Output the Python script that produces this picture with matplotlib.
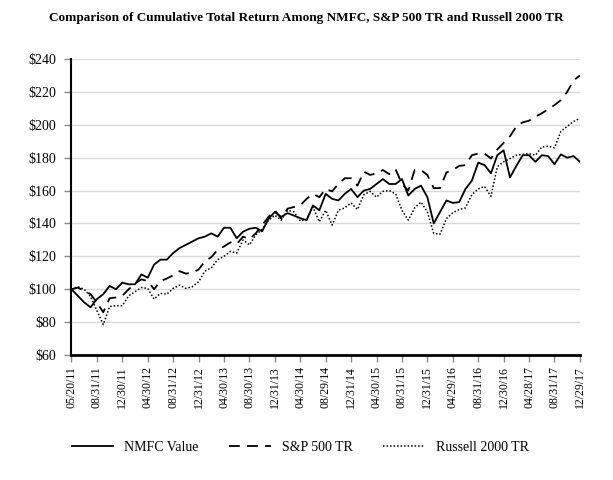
import matplotlib
matplotlib.use("Agg")
import matplotlib.pyplot as plt

plt.rcParams['font.family'] = ['Liberation Serif', 'DejaVu Serif']

dates = ["05/20/11", "05/31/11", "06/30/11", "07/29/11", "08/31/11", "09/30/11", "10/31/11", "11/30/11",
         "12/30/11", "01/31/12", "02/29/12", "03/30/12", "04/30/12", "05/31/12", "06/29/12", "07/31/12",
         "08/31/12", "09/28/12", "10/31/12", "11/30/12", "12/31/12", "01/31/13", "02/28/13", "03/28/13",
         "04/30/13", "05/31/13", "06/28/13", "07/31/13", "08/30/13", "09/30/13", "10/31/13", "11/29/13",
         "12/31/13", "01/31/14", "02/28/14", "03/31/14", "04/30/14", "05/30/14", "06/30/14", "07/31/14",
         "08/29/14", "09/30/14", "10/31/14", "11/28/14", "12/31/14", "01/30/15", "02/27/15", "03/31/15",
         "04/30/15", "05/29/15", "06/30/15", "07/31/15", "08/31/15", "09/30/15", "10/30/15", "11/30/15",
         "12/31/15", "01/29/16", "02/29/16", "03/31/16", "04/29/16", "05/31/16", "06/30/16", "07/29/16",
         "08/31/16", "09/30/16", "10/31/16", "11/30/16", "12/30/16", "01/31/17", "02/28/17", "03/31/17",
         "04/28/17", "05/31/17", "06/30/17", "07/31/17", "08/31/17", "09/29/17", "10/31/17", "11/30/17",
         "12/29/17"]

nmfc = [100, 96, 92, 89, 94, 97, 102, 100, 104, 103, 103, 109, 107, 115, 118, 118,
        122, 125, 127, 129, 131, 132, 134, 132, 137.4, 137.4, 131, 135, 136.8, 137.4, 135.2, 142.8,
        147, 144, 146.3, 144.8, 143.2, 142, 151, 148, 158, 155, 154, 158, 161, 156, 160, 161,
        164, 167, 164, 164, 167, 157, 161, 163, 156, 140, 147, 154, 152.5, 153, 161, 166,
        177, 175.5, 170.5, 181.5, 184.5, 168, 175, 181.5, 181.5, 177.5, 181.5, 181, 176, 182,
        180, 181, 177.5]

sp500 = [100, 101, 99, 97, 92, 86, 94.5, 95, 96, 100, 103.5, 106, 105, 100, 105, 106.5,
         108.5, 111, 109.5, 110, 112, 117, 119.5, 124, 126, 128.5, 127.5, 132, 130.5, 134, 139, 144,
         148, 143, 149, 150, 151, 155, 158, 156, 161, 159.5, 164, 167.5, 167.5, 163, 171.5, 169.5,
         170.5, 172.5, 170, 173, 164, 160, 172.5, 172.5, 169.5, 161.5, 161.5, 171, 172.5, 175,
         175.5, 181.5, 182.5, 182.5, 179.5, 185, 189, 193, 199, 201.5, 202.5, 205, 207, 209.5,
         212, 215, 220, 227, 230]

russell = [100, 101.5, 100, 95.5, 87, 78.5, 89.5, 90, 90, 96, 98.5, 101, 100.5, 94, 97.5, 97,
           100.5, 102.5, 100.5, 101.5, 104.5, 111, 113, 118, 120, 123, 122, 130, 127, 133, 136.5, 142,
           145, 142, 148, 147, 141.5, 142.5, 150, 141, 148, 139, 148, 149.5, 152.5, 148.5, 157.5, 159.5,
           156, 159.5, 160, 158, 148, 142, 149.5, 153, 147, 134, 133.5, 143, 146.5, 148.5,
           149.5, 157.5, 161, 162.5, 156.5, 174.5, 177.5, 179.5, 181.5, 182, 182.5, 181.5, 186.5, 187,
           186, 196, 199, 202, 204]

tick_step = 4
yticks = [60, 80, 100, 120, 140, 160, 180, 200, 220, 240]

fig = plt.figure(figsize=(6.13, 4.80), dpi=100)
ax = fig.add_axes([0.1166, 0.2604, 0.8294, 0.6166])

x = list(range(len(dates)))
l1, = ax.plot(x, nmfc, color='black', lw=1.3, linestyle='-', label='NMFC Value')
l2, = ax.plot(x, sp500, color='black', lw=1.3, linestyle=(0, (6, 4)), label='S&P 500 TR')
l3, = ax.plot(x, russell, color='black', lw=1.1, linestyle=(0, (1, 1.3)), label='Russell 2000 TR')

ax.set_xlim(0, len(dates) - 1)
ax.set_ylim(60, 240)
ax.set_yticks(yticks)
ax.set_yticklabels(["${}".format(v) for v in yticks], fontsize=10)
ax.set_xticks(x[::tick_step])
ax.set_xticklabels(dates[::tick_step], rotation=90, fontsize=8.5)

ax.grid(axis='y', color='#d9d9d9', lw=1)
ax.set_axisbelow(True)
for s in ['top', 'right']:
    ax.spines[s].set_visible(False)
ax.spines['left'].set_linewidth(1.5)
ax.spines['bottom'].set_linewidth(2)
ax.tick_params(axis='y', length=5, color='#888888', width=1, pad=6)
ax.tick_params(axis='x', length=5, color='#888888', width=1, pad=3)

fig.text(0.5, 0.962, "Comparison of Cumulative Total Return Among NMFC, S&P 500 TR and Russell 2000 TR",
         ha='center', va='center', fontsize=9.5, fontweight='bold')

fig.legend(handles=[l1, l2, l3], loc='center', bbox_to_anchor=(0.49, 0.067), ncol=3, frameon=False,
           fontsize=10, handlelength=3.0, handletextpad=0.8, columnspacing=2.2)

fig.savefig("out.png", dpi=100)
